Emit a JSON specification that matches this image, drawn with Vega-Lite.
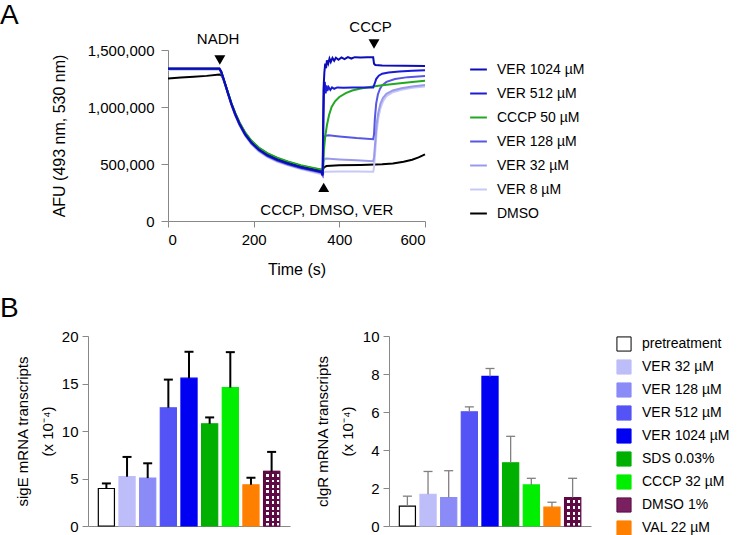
{
"$schema": "https://vega.github.io/schema/vega-lite/v6.json",
"background": "white",
"padding": {"left": 0, "top": 2, "right": 0, "bottom": 0},
"spacing": 18,
"resolve": {"scale": {"x": "independent", "y": "independent", "color": "independent", "fill": "independent", "stroke": "independent"}},
"config": {
  "font": "Liberation Sans",
  "view": {"stroke": null},
  "axis": {"grid": false, "labelOverlap": false, "domainColor": "#888888", "tickColor": "#888888", "labelColor": "#000000", "titleColor": "#000000", "labelFont": "Liberation Sans", "titleFont": "Liberation Sans", "titleFontWeight": "normal"},
  "title": {"fontSize": 28, "fontWeight": "normal", "anchor": "start", "frame": "group", "font": "Liberation Sans", "color": "#000000"}
},
"datasets": {
  "lines": [
    {"s":"DMSO","t":0,"v":1251000},{"s":"DMSO","t":30,"v":1258000},{"s":"DMSO","t":60,"v":1265000},{"s":"DMSO","t":90,"v":1273000},{"s":"DMSO","t":120,"v":1284000},{"s":"DMSO","t":124,"v":1280000},{"s":"DMSO","t":128,"v":1255000},{"s":"DMSO","t":133,"v":1205000},{"s":"DMSO","t":140,"v":1125000},{"s":"DMSO","t":148,"v":1032000},{"s":"DMSO","t":157,"v":944000},{"s":"DMSO","t":167,"v":860000},{"s":"DMSO","t":180,"v":773000},{"s":"DMSO","t":195,"v":699000},{"s":"DMSO","t":212,"v":640000},{"s":"DMSO","t":232,"v":591000},{"s":"DMSO","t":255,"v":551000},{"s":"DMSO","t":280,"v":518000},{"s":"DMSO","t":310,"v":485000},{"s":"DMSO","t":340,"v":460000},{"s":"DMSO","t":358,"v":447000},{"s":"DMSO","t":362,"v":450000},{"s":"DMSO","t":364,"v":470000},{"s":"DMSO","t":370,"v":482000},{"s":"DMSO","t":400,"v":488000},{"s":"DMSO","t":450,"v":492000},{"s":"DMSO","t":500,"v":497000},{"s":"DMSO","t":525,"v":505000},{"s":"DMSO","t":550,"v":520000},{"s":"DMSO","t":570,"v":538000},{"s":"DMSO","t":585,"v":558000},{"s":"DMSO","t":600,"v":585000},

    {"s":"VER 8 µM","t":0,"v":1330000},{"s":"VER 8 µM","t":120,"v":1330000},{"s":"VER 8 µM","t":124,"v":1305000},{"s":"VER 8 µM","t":128,"v":1258000},{"s":"VER 8 µM","t":133,"v":1198000},{"s":"VER 8 µM","t":140,"v":1112000},{"s":"VER 8 µM","t":148,"v":1015000},{"s":"VER 8 µM","t":157,"v":925000},{"s":"VER 8 µM","t":167,"v":838000},{"s":"VER 8 µM","t":180,"v":748000},{"s":"VER 8 µM","t":195,"v":672000},{"s":"VER 8 µM","t":212,"v":611000},{"s":"VER 8 µM","t":232,"v":560000},{"s":"VER 8 µM","t":255,"v":520000},{"s":"VER 8 µM","t":280,"v":488000},{"s":"VER 8 µM","t":310,"v":455000},{"s":"VER 8 µM","t":340,"v":428000},{"s":"VER 8 µM","t":358,"v":412000},{"s":"VER 8 µM","t":361,"v":395000},{"s":"VER 8 µM","t":363,"v":425000},{"s":"VER 8 µM","t":366,"v":432000},{"s":"VER 8 µM","t":400,"v":435000},{"s":"VER 8 µM","t":440,"v":434000},{"s":"VER 8 µM","t":479,"v":432000},{"s":"VER 8 µM","t":481,"v":470000},{"s":"VER 8 µM","t":484,"v":620000},{"s":"VER 8 µM","t":487,"v":780000},{"s":"VER 8 µM","t":491,"v":900000},{"s":"VER 8 µM","t":496,"v":990000},{"s":"VER 8 µM","t":502,"v":1050000},{"s":"VER 8 µM","t":510,"v":1095000},{"s":"VER 8 µM","t":525,"v":1130000},{"s":"VER 8 µM","t":545,"v":1152000},{"s":"VER 8 µM","t":570,"v":1168000},{"s":"VER 8 µM","t":600,"v":1180000},

    {"s":"VER 32 µM","t":0,"v":1332000},{"s":"VER 32 µM","t":120,"v":1332000},{"s":"VER 32 µM","t":124,"v":1307000},{"s":"VER 32 µM","t":128,"v":1261000},{"s":"VER 32 µM","t":133,"v":1201000},{"s":"VER 32 µM","t":140,"v":1115000},{"s":"VER 32 µM","t":148,"v":1020000},{"s":"VER 32 µM","t":157,"v":929000},{"s":"VER 32 µM","t":167,"v":843000},{"s":"VER 32 µM","t":180,"v":752000},{"s":"VER 32 µM","t":195,"v":677000},{"s":"VER 32 µM","t":212,"v":616000},{"s":"VER 32 µM","t":232,"v":566000},{"s":"VER 32 µM","t":255,"v":526000},{"s":"VER 32 µM","t":280,"v":494000},{"s":"VER 32 µM","t":310,"v":461000},{"s":"VER 32 µM","t":340,"v":436000},{"s":"VER 32 µM","t":358,"v":420000},{"s":"VER 32 µM","t":361,"v":400000},{"s":"VER 32 µM","t":363,"v":520000},{"s":"VER 32 µM","t":366,"v":545000},{"s":"VER 32 µM","t":370,"v":548000},{"s":"VER 32 µM","t":400,"v":540000},{"s":"VER 32 µM","t":440,"v":532000},{"s":"VER 32 µM","t":479,"v":525000},{"s":"VER 32 µM","t":481,"v":560000},{"s":"VER 32 µM","t":484,"v":700000},{"s":"VER 32 µM","t":487,"v":850000},{"s":"VER 32 µM","t":491,"v":950000},{"s":"VER 32 µM","t":496,"v":1030000},{"s":"VER 32 µM","t":502,"v":1080000},{"s":"VER 32 µM","t":510,"v":1115000},{"s":"VER 32 µM","t":525,"v":1145000},{"s":"VER 32 µM","t":545,"v":1165000},{"s":"VER 32 µM","t":570,"v":1180000},{"s":"VER 32 µM","t":600,"v":1192000},

    {"s":"VER 128 µM","t":0,"v":1334000},{"s":"VER 128 µM","t":120,"v":1334000},{"s":"VER 128 µM","t":124,"v":1309000},{"s":"VER 128 µM","t":128,"v":1263000},{"s":"VER 128 µM","t":133,"v":1203000},{"s":"VER 128 µM","t":140,"v":1118000},{"s":"VER 128 µM","t":148,"v":1023000},{"s":"VER 128 µM","t":157,"v":932000},{"s":"VER 128 µM","t":167,"v":847000},{"s":"VER 128 µM","t":180,"v":756000},{"s":"VER 128 µM","t":195,"v":681000},{"s":"VER 128 µM","t":212,"v":620000},{"s":"VER 128 µM","t":232,"v":570000},{"s":"VER 128 µM","t":255,"v":530000},{"s":"VER 128 µM","t":280,"v":498000},{"s":"VER 128 µM","t":310,"v":465000},{"s":"VER 128 µM","t":340,"v":440000},{"s":"VER 128 µM","t":358,"v":425000},{"s":"VER 128 µM","t":361,"v":405000},{"s":"VER 128 µM","t":363,"v":650000},{"s":"VER 128 µM","t":365,"v":730000},{"s":"VER 128 µM","t":368,"v":748000},{"s":"VER 128 µM","t":375,"v":752000},{"s":"VER 128 µM","t":400,"v":742000},{"s":"VER 128 µM","t":440,"v":728000},{"s":"VER 128 µM","t":479,"v":718000},{"s":"VER 128 µM","t":481,"v":760000},{"s":"VER 128 µM","t":483,"v":900000},{"s":"VER 128 µM","t":486,"v":1030000},{"s":"VER 128 µM","t":490,"v":1110000},{"s":"VER 128 µM","t":495,"v":1160000},{"s":"VER 128 µM","t":500,"v":1190000},{"s":"VER 128 µM","t":510,"v":1220000},{"s":"VER 128 µM","t":530,"v":1245000},{"s":"VER 128 µM","t":560,"v":1262000},{"s":"VER 128 µM","t":600,"v":1272000},

    {"s":"CCCP 50 µM","t":0,"v":1335000},{"s":"CCCP 50 µM","t":120,"v":1335000},{"s":"CCCP 50 µM","t":124,"v":1312000},{"s":"CCCP 50 µM","t":128,"v":1268000},{"s":"CCCP 50 µM","t":133,"v":1210000},{"s":"CCCP 50 µM","t":140,"v":1128000},{"s":"CCCP 50 µM","t":148,"v":1035000},{"s":"CCCP 50 µM","t":157,"v":948000},{"s":"CCCP 50 µM","t":167,"v":865000},{"s":"CCCP 50 µM","t":180,"v":778000},{"s":"CCCP 50 µM","t":195,"v":704000},{"s":"CCCP 50 µM","t":212,"v":645000},{"s":"CCCP 50 µM","t":232,"v":596000},{"s":"CCCP 50 µM","t":255,"v":556000},{"s":"CCCP 50 µM","t":280,"v":523000},{"s":"CCCP 50 µM","t":310,"v":490000},{"s":"CCCP 50 µM","t":340,"v":466000},{"s":"CCCP 50 µM","t":358,"v":452000},{"s":"CCCP 50 µM","t":362,"v":455000},{"s":"CCCP 50 µM","t":364,"v":620000},{"s":"CCCP 50 µM","t":367,"v":740000},{"s":"CCCP 50 µM","t":371,"v":840000},{"s":"CCCP 50 µM","t":376,"v":930000},{"s":"CCCP 50 µM","t":382,"v":1000000},{"s":"CCCP 50 µM","t":390,"v":1050000},{"s":"CCCP 50 µM","t":400,"v":1088000},{"s":"CCCP 50 µM","t":415,"v":1122000},{"s":"CCCP 50 µM","t":430,"v":1145000},{"s":"CCCP 50 µM","t":450,"v":1163000},{"s":"CCCP 50 µM","t":475,"v":1178000},{"s":"CCCP 50 µM","t":500,"v":1190000},{"s":"CCCP 50 µM","t":537,"v":1207000},{"s":"CCCP 50 µM","t":570,"v":1220000},{"s":"CCCP 50 µM","t":600,"v":1231000},

    {"s":"VER 512 µM","t":0,"v":1336000},{"s":"VER 512 µM","t":120,"v":1336000},{"s":"VER 512 µM","t":124,"v":1311000},{"s":"VER 512 µM","t":128,"v":1266000},{"s":"VER 512 µM","t":133,"v":1206000},{"s":"VER 512 µM","t":140,"v":1121000},{"s":"VER 512 µM","t":148,"v":1026000},{"s":"VER 512 µM","t":157,"v":936000},{"s":"VER 512 µM","t":167,"v":851000},{"s":"VER 512 µM","t":180,"v":761000},{"s":"VER 512 µM","t":195,"v":686000},{"s":"VER 512 µM","t":212,"v":626000},{"s":"VER 512 µM","t":232,"v":576000},{"s":"VER 512 µM","t":255,"v":536000},{"s":"VER 512 µM","t":280,"v":504000},{"s":"VER 512 µM","t":310,"v":471000},{"s":"VER 512 µM","t":340,"v":446000},{"s":"VER 512 µM","t":358,"v":430000},{"s":"VER 512 µM","t":361,"v":405000},{"s":"VER 512 µM","t":363,"v":900000},{"s":"VER 512 µM","t":364,"v":1100000},{"s":"VER 512 µM","t":366,"v":1220000},{"s":"VER 512 µM","t":368,"v":1120000},{"s":"VER 512 µM","t":370,"v":1190000},{"s":"VER 512 µM","t":372,"v":1140000},{"s":"VER 512 µM","t":375,"v":1175000},{"s":"VER 512 µM","t":379,"v":1150000},{"s":"VER 512 µM","t":383,"v":1172000},{"s":"VER 512 µM","t":388,"v":1160000},{"s":"VER 512 µM","t":395,"v":1172000},{"s":"VER 512 µM","t":410,"v":1168000},{"s":"VER 512 µM","t":430,"v":1172000},{"s":"VER 512 µM","t":450,"v":1170000},{"s":"VER 512 µM","t":479,"v":1170000},{"s":"VER 512 µM","t":482,"v":1200000},{"s":"VER 512 µM","t":486,"v":1245000},{"s":"VER 512 µM","t":492,"v":1275000},{"s":"VER 512 µM","t":500,"v":1292000},{"s":"VER 512 µM","t":515,"v":1303000},{"s":"VER 512 µM","t":540,"v":1312000},{"s":"VER 512 µM","t":570,"v":1318000},{"s":"VER 512 µM","t":600,"v":1322000},

    {"s":"VER 1024 µM","t":0,"v":1337000},{"s":"VER 1024 µM","t":120,"v":1337000},{"s":"VER 1024 µM","t":124,"v":1312000},{"s":"VER 1024 µM","t":128,"v":1267000},{"s":"VER 1024 µM","t":133,"v":1207000},{"s":"VER 1024 µM","t":140,"v":1122000},{"s":"VER 1024 µM","t":148,"v":1027000},{"s":"VER 1024 µM","t":157,"v":937000},{"s":"VER 1024 µM","t":167,"v":852000},{"s":"VER 1024 µM","t":180,"v":762000},{"s":"VER 1024 µM","t":195,"v":687000},{"s":"VER 1024 µM","t":212,"v":627000},{"s":"VER 1024 µM","t":232,"v":577000},{"s":"VER 1024 µM","t":255,"v":537000},{"s":"VER 1024 µM","t":280,"v":505000},{"s":"VER 1024 µM","t":310,"v":472000},{"s":"VER 1024 µM","t":340,"v":447000},{"s":"VER 1024 µM","t":358,"v":432000},{"s":"VER 1024 µM","t":361,"v":400000},{"s":"VER 1024 µM","t":363,"v":1150000},{"s":"VER 1024 µM","t":365,"v":1300000},{"s":"VER 1024 µM","t":367,"v":1380000},{"s":"VER 1024 µM","t":369,"v":1340000},{"s":"VER 1024 µM","t":371,"v":1410000},{"s":"VER 1024 µM","t":374,"v":1380000},{"s":"VER 1024 µM","t":377,"v":1425000},{"s":"VER 1024 µM","t":380,"v":1395000},{"s":"VER 1024 µM","t":384,"v":1430000},{"s":"VER 1024 µM","t":388,"v":1405000},{"s":"VER 1024 µM","t":392,"v":1432000},{"s":"VER 1024 µM","t":398,"v":1415000},{"s":"VER 1024 µM","t":405,"v":1435000},{"s":"VER 1024 µM","t":412,"v":1420000},{"s":"VER 1024 µM","t":420,"v":1437000},{"s":"VER 1024 µM","t":428,"v":1425000},{"s":"VER 1024 µM","t":436,"v":1437000},{"s":"VER 1024 µM","t":450,"v":1435000},{"s":"VER 1024 µM","t":465,"v":1437000},{"s":"VER 1024 µM","t":479,"v":1436000},{"s":"VER 1024 µM","t":481,"v":1380000},{"s":"VER 1024 µM","t":484,"v":1368000},{"s":"VER 1024 µM","t":500,"v":1365000},{"s":"VER 1024 µM","t":550,"v":1362000},{"s":"VER 1024 µM","t":600,"v":1360000}
  ],
  "notes": [
    {"label": "NADH", "t": 117, "v": 1599000},
    {"label": "CCCP", "t": 473, "v": 1704000},
    {"label": "CCCP, DMSO, VER", "t": 371, "v": 96000}
  ],
  "arrows": [
    {"dir": "down", "t": 121, "v": 1412000},
    {"dir": "down", "t": 481, "v": 1553000},
    {"dir": "up", "t": 363.5, "v": 295000}
  ],
  "sigE": [
    {"cond":"pretreatment","val":3.95,"hi":4.48},
    {"cond":"VER 32 µM","val":5.19,"hi":7.27},
    {"cond":"VER 128 µM","val":5.04,"hi":6.6},
    {"cond":"VER 512 µM","val":12.45,"hi":15.41},
    {"cond":"VER 1024 µM","val":15.56,"hi":18.34},
    {"cond":"SDS 0.03%","val":10.76,"hi":11.43},
    {"cond":"CCCP 32 µM","val":14.57,"hi":18.3},
    {"cond":"VAL 22 µM","val":4.34,"hi":5.08},
    {"cond":"DMSO 1%","val":5.75,"hi":7.8}
  ],
  "clgR": [
    {"cond":"pretreatment","val":1.05,"hi":1.57},
    {"cond":"VER 32 µM","val":1.67,"hi":2.87},
    {"cond":"VER 128 µM","val":1.5,"hi":2.91},
    {"cond":"VER 512 µM","val":6.01,"hi":6.27},
    {"cond":"VER 1024 µM","val":7.87,"hi":8.29},
    {"cond":"SDS 0.03%","val":3.33,"hi":4.72},
    {"cond":"CCCP 32 µM","val":2.16,"hi":2.51},
    {"cond":"VAL 22 µM","val":0.99,"hi":1.25},
    {"cond":"DMSO 1%","val":1.5,"hi":2.51}
  ]
},
"vconcat": [
  {
    "bounds": "flush",
    "spacing": 20,
    "hconcat": [
      {
        "width": 60, "height": 171,
        "title": {"text": "A", "dx": -88, "offset": 20},
        "data": {"values": [{}]},
        "mark": {"type": "text"},
        "encoding": {"text": {"value": ""}}
      },
      {
        "width": 257, "height": 171,
        "layer": [
          {
            "data": {"name": "lines"},
            "mark": {"type": "line", "strokeWidth": 2},
            "encoding": {
              "x": {"field": "t", "type": "quantitative", "title": "Time (s)", "scale": {"domain": [0, 600], "nice": false},
                    "axis": {"values": [0, 200, 400, 600], "labelFontSize": 15, "titleFontSize": 16, "tickSize": 6, "labelPadding": 5, "titlePadding": 14}},
              "y": {"field": "v", "type": "quantitative", "title": "AFU (493 nm, 530 nm)", "scale": {"domain": [0, 1500000], "nice": false},
                    "axis": {"values": [0, 500000, 1000000, 1500000], "format": ",.0f", "labelFontSize": 15, "titleFontSize": 16, "tickSize": 7, "labelPadding": 7, "titlePadding": 20}},
              "color": {"field": "s", "type": "nominal",
                "scale": {"domain": ["VER 1024 µM", "VER 512 µM", "CCCP 50 µM", "VER 128 µM", "VER 32 µM", "VER 8 µM", "DMSO"],
                          "range": ["#0d0db8", "#1b1bd8", "#22a822", "#5757e2", "#9a9aec", "#c8c8f4", "#000000"]},
                "legend": {"title": null, "orient": "right", "offset": 30, "padding": 10, "symbolType": "stroke", "symbolSize": 280, "symbolStrokeWidth": 2, "labelFontSize": 14, "rowPadding": 7, "labelOffset": 9, "labelColor": "#000000"}}
            }
          },
          {
            "data": {"name": "notes"},
            "mark": {"type": "text", "fontSize": 15, "align": "center", "baseline": "middle", "color": "#000000"},
            "encoding": {
              "x": {"field": "t", "type": "quantitative"},
              "y": {"field": "v", "type": "quantitative"},
              "text": {"field": "label"}
            }
          },
          {
            "data": {"name": "arrows"},
            "transform": [{"filter": "datum.dir === 'down'"}],
            "mark": {"type": "point", "shape": "triangle-down", "filled": true, "color": "#000000", "size": 120, "opacity": 1},
            "encoding": {
              "x": {"field": "t", "type": "quantitative"},
              "y": {"field": "v", "type": "quantitative"}
            }
          },
          {
            "data": {"name": "arrows"},
            "transform": [{"filter": "datum.dir === 'up'"}],
            "mark": {"type": "point", "shape": "triangle-up", "filled": true, "color": "#000000", "size": 120, "opacity": 1},
            "encoding": {
              "x": {"field": "t", "type": "quantitative"},
              "y": {"field": "v", "type": "quantitative"}
            }
          }
        ]
      }
    ]
  },
  {
    "bounds": "flush",
    "spacing": 99,
    "resolve": {"scale": {"x": "independent", "y": "independent", "fill": "independent", "stroke": "independent"}},
    "hconcat": [
      {
        "width": 202, "height": 190,
        "title": {"text": "B", "dx": -88, "offset": 6},
        "data": {"name": "sigE"},
        "encoding": {
          "x": {"field": "cond", "type": "nominal",
                "scale": {"domain": ["pretreatment","VER 32 µM","VER 128 µM","VER 512 µM","VER 1024 µM","SDS 0.03%","CCCP 32 µM","VAL 22 µM","DMSO 1%"], "paddingInner": 0.22, "paddingOuter": 0.5},
                "axis": {"title": null, "labels": false, "ticks": false}},
          "y": {"field": "val", "type": "quantitative", "title": ["sigE mRNA transcripts", "(x 10⁻⁴)"], "scale": {"domain": [0, 20], "nice": false},
                "axis": {"values": [0, 5, 10, 15, 20], "labelOverlap": false, "labelFontSize": 15, "titleFontSize": 15, "titleLineHeight": 25, "tickSize": 6, "labelPadding": 4, "titlePadding": 6}}
        },
        "layer": [
          {
            "mark": {"type": "bar", "strokeWidth": 1.2, "opacity": 1},
            "encoding": {
              "fill": {"field": "cond", "type": "nominal",
                "scale": {"domain": ["pretreatment","VER 32 µM","VER 128 µM","VER 512 µM","VER 1024 µM","SDS 0.03%","CCCP 32 µM","DMSO 1%","VAL 22 µM"],
                          "range": ["#ffffff","#bdbdfa","#8b8bf8","#5353f6","#0000f2","#00b000","#00ee00","#7a2060","#ff8000"]},
                "legend": null},
              "stroke": {"field": "cond", "type": "nominal",
                "scale": {"domain": ["pretreatment","VER 32 µM","VER 128 µM","VER 512 µM","VER 1024 µM","SDS 0.03%","CCCP 32 µM","DMSO 1%","VAL 22 µM"],
                          "range": ["#000000","#bdbdfa","#8b8bf8","#5353f6","#0000f2","#00b000","#00ee00","#5a0a40","#ff8000"]},
                "legend": null}
            }
          },
          {
            "transform": [{"filter": "datum.cond === 'DMSO 1%'"}],
            "mark": {"type": "bar", "stroke": "#5a0a40", "strokeWidth": 1,
              "fill": {"gradient": "linear", "x1": 0, "y1": 0, "x2": 1, "y2": 0, "stops": [
                {"offset": 0, "color": "#5e0a44"}, {"offset": 0.1667, "color": "#5e0a44"}, {"offset": 0.1667, "color": "#ffffff"}, {"offset": 0.3333, "color": "#ffffff"},
                {"offset": 0.3333, "color": "#5e0a44"}, {"offset": 0.5, "color": "#5e0a44"}, {"offset": 0.5, "color": "#ffffff"}, {"offset": 0.6667, "color": "#ffffff"},
                {"offset": 0.6667, "color": "#5e0a44"}, {"offset": 0.8333, "color": "#5e0a44"}, {"offset": 0.8333, "color": "#ffffff"}, {"offset": 1, "color": "#ffffff"}]}}
          },
          {
            "transform": [{"filter": "datum.cond === 'DMSO 1%'"}],
            "mark": {"type": "bar", "strokeWidth": 0,
              "fill": {"gradient": "linear", "x1": 0, "y1": 0, "x2": 0, "y2": 1, "stops": [
                {"offset": 0, "color": "#5e0a44"}, {"offset": 0.05, "color": "#5e0a44"}, {"offset": 0.05, "color": "rgba(255,255,255,0)"}, {"offset": 0.1, "color": "rgba(255,255,255,0)"},
                {"offset": 0.1, "color": "#5e0a44"}, {"offset": 0.15, "color": "#5e0a44"}, {"offset": 0.15, "color": "rgba(255,255,255,0)"}, {"offset": 0.2, "color": "rgba(255,255,255,0)"},
                {"offset": 0.2, "color": "#5e0a44"}, {"offset": 0.25, "color": "#5e0a44"}, {"offset": 0.25, "color": "rgba(255,255,255,0)"}, {"offset": 0.3, "color": "rgba(255,255,255,0)"},
                {"offset": 0.3, "color": "#5e0a44"}, {"offset": 0.35, "color": "#5e0a44"}, {"offset": 0.35, "color": "rgba(255,255,255,0)"}, {"offset": 0.4, "color": "rgba(255,255,255,0)"},
                {"offset": 0.4, "color": "#5e0a44"}, {"offset": 0.45, "color": "#5e0a44"}, {"offset": 0.45, "color": "rgba(255,255,255,0)"}, {"offset": 0.5, "color": "rgba(255,255,255,0)"},
                {"offset": 0.5, "color": "#5e0a44"}, {"offset": 0.55, "color": "#5e0a44"}, {"offset": 0.55, "color": "rgba(255,255,255,0)"}, {"offset": 0.6, "color": "rgba(255,255,255,0)"},
                {"offset": 0.6, "color": "#5e0a44"}, {"offset": 0.65, "color": "#5e0a44"}, {"offset": 0.65, "color": "rgba(255,255,255,0)"}, {"offset": 0.7, "color": "rgba(255,255,255,0)"},
                {"offset": 0.7, "color": "#5e0a44"}, {"offset": 0.75, "color": "#5e0a44"}, {"offset": 0.75, "color": "rgba(255,255,255,0)"}, {"offset": 0.8, "color": "rgba(255,255,255,0)"},
                {"offset": 0.8, "color": "#5e0a44"}, {"offset": 0.85, "color": "#5e0a44"}, {"offset": 0.85, "color": "rgba(255,255,255,0)"}, {"offset": 0.9, "color": "rgba(255,255,255,0)"},
                {"offset": 0.9, "color": "#5e0a44"}, {"offset": 0.95, "color": "#5e0a44"}, {"offset": 0.95, "color": "rgba(255,255,255,0)"}, {"offset": 1, "color": "rgba(255,255,255,0)"}]}}
          },
          {
            "mark": {"type": "rule", "color": "#000000", "strokeWidth": 2},
            "encoding": {"y2": {"field": "hi"}}
          },
          {
            "mark": {"type": "tick", "color": "#000000", "thickness": 2, "size": 9, "opacity": 1},
            "encoding": {"y": {"field": "hi", "type": "quantitative", "title": ["sigE mRNA transcripts", "(x 10⁻⁴)"],
                "axis": {"values": [0, 5, 10, 15, 20], "labelOverlap": false, "labelFontSize": 15, "titleFontSize": 15, "titleLineHeight": 25, "tickSize": 6, "labelPadding": 4, "titlePadding": 6}}}
          }
        ]
      },
      {
        "width": 202, "height": 190,
        "data": {"name": "clgR"},
        "encoding": {
          "x": {"field": "cond", "type": "nominal",
                "scale": {"domain": ["pretreatment","VER 32 µM","VER 128 µM","VER 512 µM","VER 1024 µM","SDS 0.03%","CCCP 32 µM","VAL 22 µM","DMSO 1%"], "paddingInner": 0.22, "paddingOuter": 0.5},
                "axis": {"title": null, "labels": false, "ticks": false}},
          "y": {"field": "val", "type": "quantitative", "title": ["clgR mRNA transcripts", "(x 10⁻⁴)"], "scale": {"domain": [0, 10], "nice": false},
                "axis": {"values": [0, 2, 4, 6, 8, 10], "labelOverlap": false, "labelFontSize": 15, "titleFontSize": 15, "titleLineHeight": 25, "tickSize": 6, "labelPadding": 4, "titlePadding": 7}}
        },
        "layer": [
          {
            "mark": {"type": "bar", "strokeWidth": 1.2, "opacity": 1},
            "encoding": {
              "fill": {"field": "cond", "type": "nominal",
                "scale": {"domain": ["pretreatment","VER 32 µM","VER 128 µM","VER 512 µM","VER 1024 µM","SDS 0.03%","CCCP 32 µM","DMSO 1%","VAL 22 µM"],
                          "range": ["#ffffff","#bdbdfa","#8b8bf8","#5353f6","#0000f2","#00b000","#00ee00","#7a2060","#ff8000"]},
                "legend": {"title": null, "orient": "right", "offset": 25, "padding": 0, "symbolType": "square", "symbolSize": 200, "labelFontSize": 14, "rowPadding": 3, "labelOffset": 10, "symbolStrokeWidth": 1, "labelColor": "#000000"}},
              "stroke": {"field": "cond", "type": "nominal",
                "scale": {"domain": ["pretreatment","VER 32 µM","VER 128 µM","VER 512 µM","VER 1024 µM","SDS 0.03%","CCCP 32 µM","DMSO 1%","VAL 22 µM"],
                          "range": ["#000000","#bdbdfa","#8b8bf8","#5353f6","#0000f2","#00b000","#00ee00","#5a0a40","#ff8000"]},
                "legend": {"title": null, "orient": "right", "offset": 25, "padding": 0, "symbolType": "square", "symbolSize": 200, "labelFontSize": 14, "rowPadding": 3, "labelOffset": 10, "symbolStrokeWidth": 1, "labelColor": "#000000"}}
            }
          },
          {
            "transform": [{"filter": "datum.cond === 'DMSO 1%'"}],
            "mark": {"type": "bar", "stroke": "#5a0a40", "strokeWidth": 1,
              "fill": {"gradient": "linear", "x1": 0, "y1": 0, "x2": 1, "y2": 0, "stops": [
                {"offset": 0, "color": "#5e0a44"}, {"offset": 0.1667, "color": "#5e0a44"}, {"offset": 0.1667, "color": "#ffffff"}, {"offset": 0.3333, "color": "#ffffff"},
                {"offset": 0.3333, "color": "#5e0a44"}, {"offset": 0.5, "color": "#5e0a44"}, {"offset": 0.5, "color": "#ffffff"}, {"offset": 0.6667, "color": "#ffffff"},
                {"offset": 0.6667, "color": "#5e0a44"}, {"offset": 0.8333, "color": "#5e0a44"}, {"offset": 0.8333, "color": "#ffffff"}, {"offset": 1, "color": "#ffffff"}]}}
          },
          {
            "transform": [{"filter": "datum.cond === 'DMSO 1%'"}],
            "mark": {"type": "bar", "strokeWidth": 0,
              "fill": {"gradient": "linear", "x1": 0, "y1": 0, "x2": 0, "y2": 1, "stops": [
                {"offset": 0, "color": "#5e0a44"}, {"offset": 0.1, "color": "#5e0a44"}, {"offset": 0.1, "color": "rgba(255,255,255,0)"}, {"offset": 0.2, "color": "rgba(255,255,255,0)"},
                {"offset": 0.2, "color": "#5e0a44"}, {"offset": 0.3, "color": "#5e0a44"}, {"offset": 0.3, "color": "rgba(255,255,255,0)"}, {"offset": 0.4, "color": "rgba(255,255,255,0)"},
                {"offset": 0.4, "color": "#5e0a44"}, {"offset": 0.5, "color": "#5e0a44"}, {"offset": 0.5, "color": "rgba(255,255,255,0)"}, {"offset": 0.6, "color": "rgba(255,255,255,0)"},
                {"offset": 0.6, "color": "#5e0a44"}, {"offset": 0.7, "color": "#5e0a44"}, {"offset": 0.7, "color": "rgba(255,255,255,0)"}, {"offset": 0.8, "color": "rgba(255,255,255,0)"},
                {"offset": 0.8, "color": "#5e0a44"}, {"offset": 0.9, "color": "#5e0a44"}, {"offset": 0.9, "color": "rgba(255,255,255,0)"}, {"offset": 1, "color": "rgba(255,255,255,0)"}]}}
          },
          {
            "mark": {"type": "rule", "color": "#808080", "strokeWidth": 1.3},
            "encoding": {"y2": {"field": "hi"}}
          },
          {
            "mark": {"type": "tick", "color": "#808080", "thickness": 1.3, "size": 9, "opacity": 1},
            "encoding": {"y": {"field": "hi", "type": "quantitative", "title": ["clgR mRNA transcripts", "(x 10⁻⁴)"],
                "axis": {"values": [0, 2, 4, 6, 8, 10], "labelOverlap": false, "labelFontSize": 15, "titleFontSize": 15, "titleLineHeight": 25, "tickSize": 6, "labelPadding": 4, "titlePadding": 7}}}
          }
        ]
      }
    ]
  }
]
}
